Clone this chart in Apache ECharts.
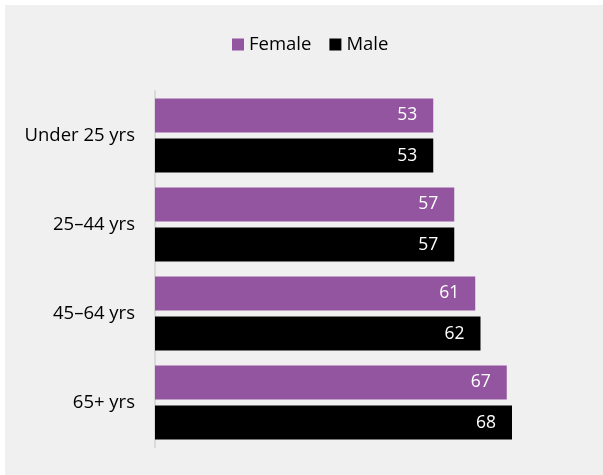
<!DOCTYPE html>
<html>
<head>
<meta charset="utf-8">
<script src="https://cdn.jsdelivr.net/npm/echarts@6/dist/echarts.min.js"></script>
<style>
  html, body { margin: 0; padding: 0; background: #ffffff; }
  #panel { position: absolute; left: 5px; top: 5px; width: 598px; height: 470px; background: #f0f0f0; }
  #chart { position: absolute; left: 0; top: 0; width: 603px; height: 475px; }
</style>
</head>
<body>
<div id="panel"></div>
<div id="chart"></div>
<script>
// Age groups, top to bottom
const categories = ['Under 25 yrs', '25–44 yrs', '45–64 yrs', '65+ yrs'];
const female = [53, 57, 61, 67];
const male = [53, 57, 62, 68];

const FONT = 'Open Sans';

const chart = echarts.init(document.getElementById('chart'));

const valueLabel = {
  show: true,
  position: 'insideRight',
  distance: 16,
  color: '#ffffff',
  fontFamily: FONT,
  fontSize: 17.5
};

chart.setOption({
  backgroundColor: 'transparent',
  textStyle: { fontFamily: FONT },
  legend: {
    top: 30,
    left: 227,
    itemWidth: 12,
    itemHeight: 12,
    itemGap: 18,
    icon: 'rect',
    textStyle: { fontFamily: FONT, fontSize: 18.5, color: '#000000' },
    data: ['Female', 'Male']
  },
  grid: { left: 155, right: 28, top: 91, bottom: 28, containLabel: false },
  xAxis: {
    type: 'value',
    min: 0,
    max: 80,
    show: false
  },
  yAxis: {
    type: 'category',
    data: categories,
    inverse: true,
    axisLine: { show: true, lineStyle: { color: '#d9d9d9', width: 2 } },
    axisTick: { show: false },
    axisLabel: { fontFamily: FONT, fontSize: 18.5, color: '#000000', margin: 20 }
  },
  series: [
    {
      name: 'Female',
      type: 'bar',
      data: female,
      itemStyle: { color: '#9354a0' },
      barWidth: 34,
      barGap: '18%',
      label: valueLabel
    },
    {
      name: 'Male',
      type: 'bar',
      data: male,
      itemStyle: { color: '#000000' },
      barWidth: 34,
      label: valueLabel
    }
  ]
});
</script>
</body>
</html>
